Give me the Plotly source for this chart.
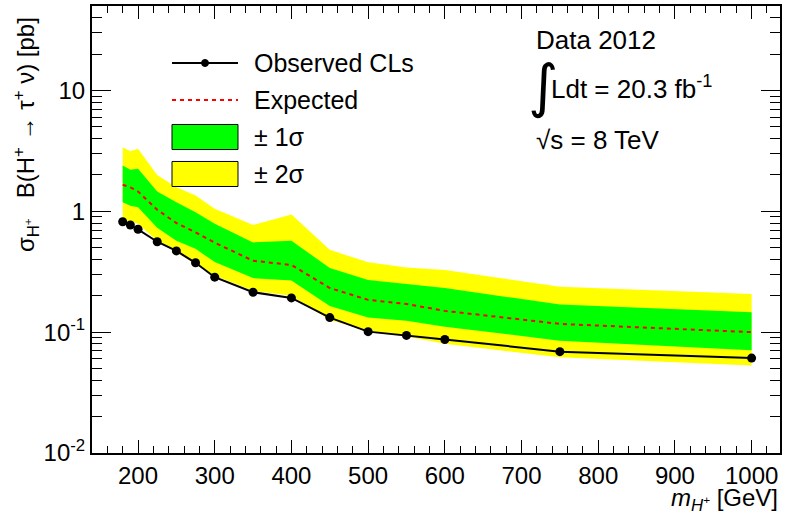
import plotly.graph_objects as go

# charged Higgs mass points [GeV]
mass = [180, 190, 200, 225, 250, 275, 300, 350, 400, 450, 500, 550, 600, 750, 1000]

# limits on sigma x BR [pb]
observed = [0.82, 0.77, 0.71, 0.56, 0.47, 0.375, 0.285, 0.214, 0.192, 0.132, 0.101, 0.094, 0.087, 0.069, 0.061]
expected = [1.66, 1.58, 1.46, 1.03, 0.80, 0.67, 0.55, 0.39, 0.36, 0.232, 0.185, 0.171, 0.150, 0.117, 0.100]
plus1 = [2.39, 2.21, 2.25, 1.46, 1.19, 0.98, 0.79, 0.553, 0.57, 0.34, 0.27, 0.25, 0.232, 0.169, 0.146]
minus1 = [1.19, 1.11, 1.08, 0.73, 0.57, 0.49, 0.38, 0.28, 0.267, 0.165, 0.132, 0.124, 0.111, 0.085, 0.071]
plus2 = [3.39, 3.14, 3.29, 2.0, 1.58, 1.35, 1.05, 0.77, 0.94, 0.48, 0.378, 0.343, 0.327, 0.238, 0.207]
minus2 = [0.86, 0.82, 0.79, 0.57, 0.457, 0.37, 0.293, 0.22, 0.20, 0.126, 0.103, 0.092, 0.080, 0.062, 0.053]

y_tickvals = [0.01, 0.1, 1, 10]
y_ticktext = ["10<sup>-2</sup>", "10<sup>-1</sup>", "1", "10"]

legend_labels = ["Observed CLs", "Expected", "\u00b1 1\u03c3", "\u00b1 2\u03c3"]

FONT = "Liberation Sans, Arial, Helvetica, sans-serif"
YELLOW = "#ffff00"
GREEN = "#00ff00"
RED = "#ff0000"

fig = go.Figure()

# +-2 sigma band
fig.add_trace(go.Scatter(x=mass, y=minus2, mode="lines", line=dict(width=0, color=YELLOW),
                         showlegend=False, hoverinfo="skip"))
fig.add_trace(go.Scatter(x=mass, y=plus2, mode="lines", line=dict(width=0, color=YELLOW),
                         fill="tonexty", fillcolor=YELLOW, showlegend=False))
# +-1 sigma band
fig.add_trace(go.Scatter(x=mass, y=minus1, mode="lines", line=dict(width=0, color=GREEN),
                         showlegend=False, hoverinfo="skip"))
fig.add_trace(go.Scatter(x=mass, y=plus1, mode="lines", line=dict(width=0, color=GREEN),
                         fill="tonexty", fillcolor=GREEN, showlegend=False))

fig.add_trace(go.Scatter(x=mass, y=expected, mode="lines", showlegend=False,
                         line=dict(color=RED, width=2, dash="4px,4px")))
fig.add_trace(go.Scatter(x=mass, y=observed, mode="lines+markers", showlegend=False,
                         line=dict(color="black", width=2),
                         marker=dict(color="black", size=9)))

minor_y = [k * 10.0 ** e for e in range(-2, 2) for k in range(2, 10)]

fig.update_xaxes(
    range=[140, 1037],
    dtick=100,
    tick0=0,
    ticks="inside",
    ticklen=13,
    tickwidth=1,
    tickcolor="black",
    minor=dict(dtick=20, ticks="inside", ticklen=7, tickcolor="black"),
    showline=True,
    linecolor="black",
    linewidth=2,
    mirror="ticks",
    showgrid=False,
    zeroline=False,
    automargin=False,
    tickfont=dict(size=24, color="black", family=FONT),
)
fig.update_yaxes(
    type="log",
    range=[-2, 1.699],
    tickmode="array",
    tickvals=y_tickvals,
    ticktext=y_ticktext,
    ticks="inside",
    ticklen=19,
    tickwidth=1,
    tickcolor="black",
    minor=dict(tickmode="array", tickvals=minor_y, ticks="inside", ticklen=10, tickcolor="black"),
    showline=True,
    linecolor="black",
    linewidth=2,
    mirror="ticks",
    showgrid=False,
    zeroline=False,
    automargin=False,
    tickfont=dict(size=24, color="black", family=FONT),
)

# axis titles
fig.add_annotation(
    text="\u03c3<sub>H<sup>+</sup></sub>   B(H<sup>+</sup> \u2192 \u03c4<sup>+</sup> \u03bd) [pb]",
    xref="paper", yref="paper", x=-0.095, y=0.98,
    xanchor="center", yanchor="top", textangle=-90, showarrow=False,
    font=dict(size=24, color="black", family=FONT),
)
fig.add_annotation(
    text="<i>m</i><sub><i>H</i><sup>+</sup></sub> [GeV]",
    xref="paper", yref="paper", x=1.0, y=-0.104,
    xanchor="right", yanchor="middle", showarrow=False,
    font=dict(size=24, color="black", family=FONT),
)

# info text
fig.add_annotation(text="Data 2012", xref="paper", yref="paper", x=0.643, y=0.924,
                   xanchor="left", yanchor="middle", showarrow=False,
                   font=dict(size=26, color="black", family=FONT))
fig.add_annotation(text="\u222b", xref="paper", yref="paper", x=0.656, y=0.822,
                   xanchor="center", yanchor="middle", showarrow=False,
                   font=dict(size=58, color="black", family="DejaVu Sans"))
fig.add_annotation(text="Ldt = 20.3 fb<sup>-1</sup>", xref="paper", yref="paper", x=0.664, y=0.817,
                   xanchor="left", yanchor="middle", showarrow=False,
                   font=dict(size=26, color="black", family=FONT))
fig.add_annotation(text="\u221as = 8 TeV", xref="paper", yref="paper", x=0.643, y=0.700,
                   xanchor="left", yanchor="middle", showarrow=False,
                   font=dict(size=26, color="black", family=FONT))

# legend, drawn in paper coordinates to mimic the large ROOT legend boxes
lx0, lx1, ltext = 0.1163, 0.2122, 0.2326
row_y = [0.8725, 0.7897, 0.7069, 0.6242]
box_h = 0.056
fig.add_shape(type="line", xref="paper", yref="paper", x0=lx0, x1=lx1, y0=row_y[0], y1=row_y[0],
              line=dict(color="black", width=2))
fig.add_shape(type="circle", xref="paper", yref="paper", xsizemode="pixel", ysizemode="pixel",
              xanchor=(lx0 + lx1) / 2, yanchor=row_y[0], x0=-3.5, x1=3.5, y0=-3.5, y1=3.5,
              fillcolor="black", line=dict(color="black", width=1))
fig.add_shape(type="line", xref="paper", yref="paper", x0=lx0, x1=lx1, y0=row_y[1], y1=row_y[1],
              line=dict(color=RED, width=2, dash="4px,4px"))
for yc, col in zip(row_y[2:], [GREEN, YELLOW]):
    fig.add_shape(type="rect", xref="paper", yref="paper", x0=lx0, x1=lx1,
                  y0=yc - box_h / 2, y1=yc + box_h / 2,
                  fillcolor=col, line=dict(color="black", width=1))
for yc, label in zip(row_y, legend_labels):
    fig.add_annotation(text=label, xref="paper", yref="paper", x=ltext, y=yc,
                       xanchor="left", yanchor="middle", showarrow=False,
                       font=dict(size=25, color="black", family=FONT))

fig.update_layout(
    width=788,
    height=518,
    margin=dict(l=92, r=8, t=6, b=65),
    paper_bgcolor="white",
    plot_bgcolor="white",
    font=dict(family=FONT, color="black"),
    showlegend=False,
)

# the page body has a default 8px margin; drop it so the 788x518 figure fills the window
fig.write_html("out.html", config={"displayModeBar": False},
               post_script="document.body.style.margin='0';")
